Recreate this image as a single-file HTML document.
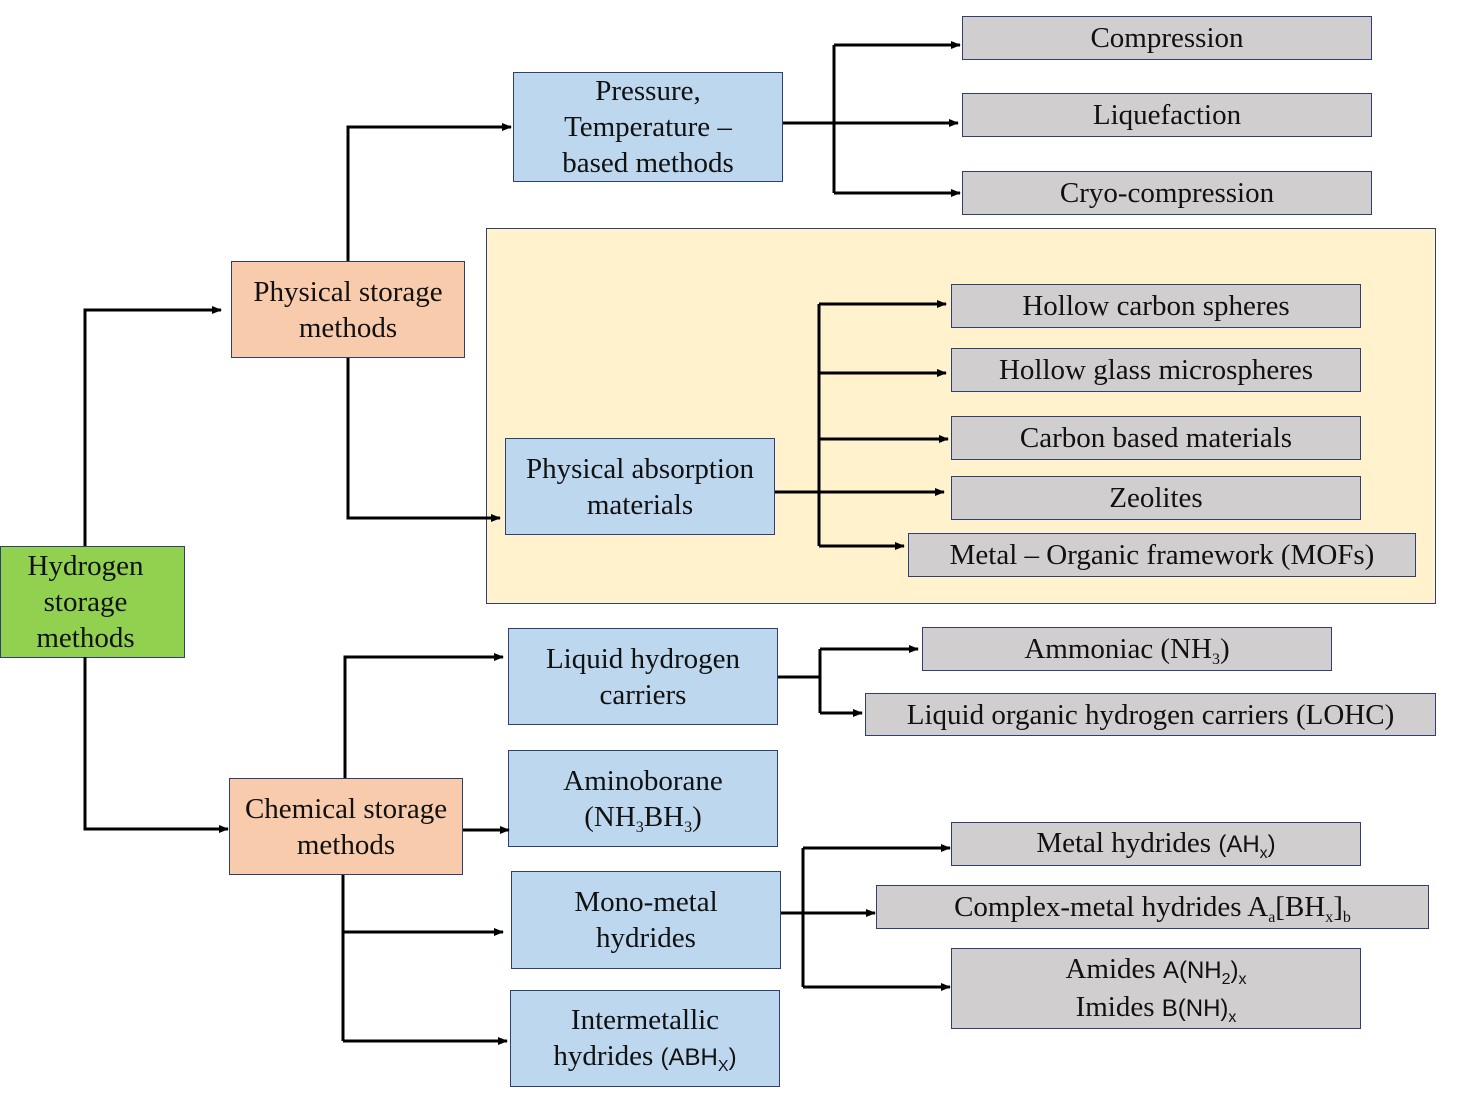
<!DOCTYPE html>
<html><head><meta charset="utf-8"><style>
html,body{margin:0;padding:0;background:#fff;}
body{width:1457px;height:1093px;position:relative;overflow:hidden;font-family:"Liberation Serif",serif;font-size:29px;color:#111;}
.b{position:absolute;box-sizing:border-box;border:1.5px solid #2f3f6f;display:flex;align-items:center;justify-content:center;text-align:center;line-height:36px;white-space:nowrap;}
.g{background:#d0cece}.bl{background:#bdd7ee}.o{background:#f8cbad}.gr{background:#92d050}
.s{font-family:"Liberation Sans",sans-serif;font-size:24px}
sub{font-size:16px;vertical-align:-6px;line-height:0}
svg{position:absolute;left:0;top:0}
</style></head><body>
<div class="b" style="left:486px;top:228px;width:950px;height:376px;background:#fff2cc"></div>
<div class="b gr" style="left:0;top:546px;width:185px;height:112px;padding-right:14px"><span>Hydrogen<br>storage<br>methods</span></div>
<div class="b o" style="left:231px;top:261px;width:234px;height:97px"><span>Physical storage<br>methods</span></div>
<div class="b o" style="left:229px;top:778px;width:234px;height:97px"><span>Chemical storage<br>methods</span></div>
<div class="b bl" style="left:513px;top:72px;width:270px;height:110px"><span>Pressure,<br>Temperature –<br>based methods</span></div>
<div class="b g" style="left:962px;top:16px;width:410px;height:44px"><span>Compression</span></div>
<div class="b g" style="left:962px;top:93px;width:410px;height:44px"><span>Liquefaction</span></div>
<div class="b g" style="left:962px;top:171px;width:410px;height:44px"><span>Cryo-compression</span></div>
<div class="b bl" style="left:505px;top:438px;width:270px;height:97px"><span>Physical absorption<br>materials</span></div>
<div class="b g" style="left:951px;top:284px;width:410px;height:44px"><span>Hollow carbon spheres</span></div>
<div class="b g" style="left:951px;top:348px;width:410px;height:44px"><span>Hollow glass microspheres</span></div>
<div class="b g" style="left:951px;top:416px;width:410px;height:44px"><span>Carbon based materials</span></div>
<div class="b g" style="left:951px;top:476px;width:410px;height:44px"><span>Zeolites</span></div>
<div class="b g" style="left:908px;top:533px;width:508px;height:44px"><span>Metal – Organic framework (MOFs)</span></div>
<div class="b bl" style="left:508px;top:628px;width:270px;height:97px"><span>Liquid hydrogen<br>carriers</span></div>
<div class="b bl" style="left:508px;top:750px;width:270px;height:97px"><span>Aminoborane<br>(NH<sub>3</sub>BH<sub>3</sub>)</span></div>
<div class="b bl" style="left:511px;top:871px;width:270px;height:98px"><span>Mono-metal<br>hydrides</span></div>
<div class="b bl" style="left:510px;top:990px;width:270px;height:97px"><span>Intermetallic<br>hydrides <span class="s">(ABH<sub>X</sub>)</span></span></div>
<div class="b g" style="left:922px;top:627px;width:410px;height:44px"><span>Ammoniac (NH<sub>3</sub>)</span></div>
<div class="b g" style="left:865px;top:693px;width:571px;height:43px"><span>Liquid organic hydrogen carriers (LOHC)</span></div>
<div class="b g" style="left:951px;top:822px;width:410px;height:44px"><span>Metal hydrides <span class="s">(AH<sub>x</sub>)</span></span></div>
<div class="b g" style="left:876px;top:885px;width:553px;height:44px"><span>Complex-metal hydrides A<sub>a</sub>[BH<sub>x</sub>]<sub>b</sub></span></div>
<div class="b g" style="left:951px;top:948px;width:410px;height:81px"><span>Amides <span class="s">A(NH<sub>2</sub>)<sub>x</sub></span><br>Imides <span class="s">B(NH)<sub>x</sub></span></span></div>
<svg width="1457" height="1093">
<defs><marker id="a" markerWidth="10" markerHeight="8" refX="9" refY="4" orient="auto" markerUnits="userSpaceOnUse"><path d="M0,0L10,4L0,8z" fill="#000"/></marker></defs>
<g stroke="#000" stroke-width="3" fill="none">
<path d="M85,546V310H221" marker-end="url(#a)"/>
<path d="M85,657V829H228" marker-end="url(#a)"/>
<path d="M348,261V127H511" marker-end="url(#a)"/>
<path d="M348,358V518H500" marker-end="url(#a)"/>
<path d="M783,123H958" marker-end="url(#a)"/>
<path d="M834,45V193"/><path d="M834,45H960" marker-end="url(#a)"/><path d="M834,193H960" marker-end="url(#a)"/>
<path d="M775,492H818"/><path d="M819,304V546"/>
<path d="M819,304H946" marker-end="url(#a)"/><path d="M819,373H946" marker-end="url(#a)"/><path d="M819,439H948" marker-end="url(#a)"/><path d="M819,492H944" marker-end="url(#a)"/><path d="M819,546H904" marker-end="url(#a)"/>
<path d="M778,677H820"/><path d="M820,649V713"/><path d="M820,649H918" marker-end="url(#a)"/><path d="M820,713H862" marker-end="url(#a)"/>
<path d="M345,778V657H503" marker-end="url(#a)"/>
<path d="M463,830H509" marker-end="url(#a)"/>
<path d="M343,875V1041"/><path d="M343,932H503" marker-end="url(#a)"/><path d="M343,1041H507" marker-end="url(#a)"/>
<path d="M781,913H875" marker-end="url(#a)"/><path d="M803,848V987"/><path d="M803,848H950" marker-end="url(#a)"/><path d="M803,987H950" marker-end="url(#a)"/>
</g></svg>
</body></html>
